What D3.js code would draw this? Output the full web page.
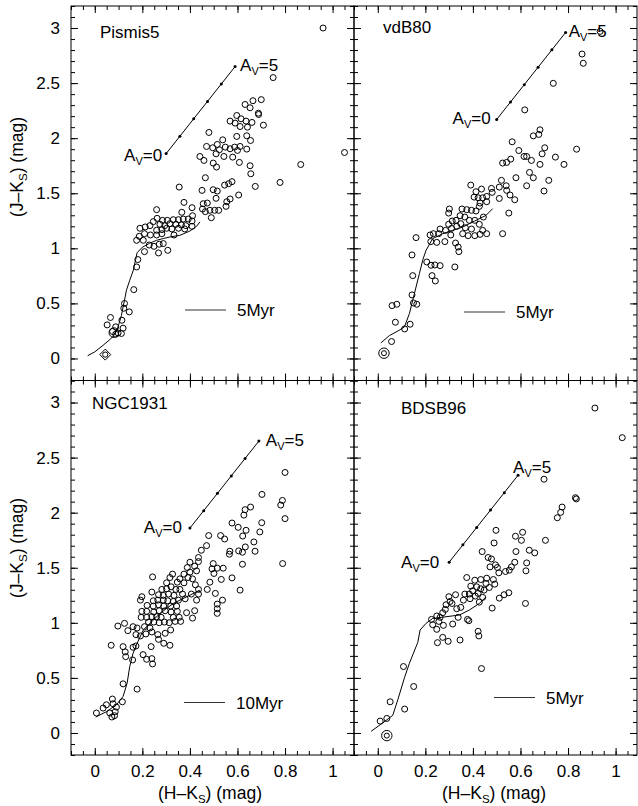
<!DOCTYPE html>
<html>
<head>
<meta charset="utf-8">
<script src="https://cdn.jsdelivr.net/npm/d3@7"></script>
<style>
  body { margin: 0; background: #fff; }
  svg { display: block; }
  text { font-family: "Liberation Sans", Arial, Helvetica, sans-serif; fill: #000; }
</style>
</head>
<body>
<svg id="chart" width="638" height="806"></svg>
<script>
// ---- data ----
const clusterNames = ["Pismis5", "vdB80", "NGC1931", "BDSB96"];
const isoAges = ["5Myr", "5Myr", "10Myr", "5Myr"];

const xTickValues = [0, 0.2, 0.4, 0.6, 0.8, 1];
const yTickValues = [0, 0.5, 1, 1.5, 2, 2.5, 3];

// reddening vector: start at A_V=0, one dot per magnitude
const avStarts = [[0.3, 1.86], [0.5, 2.17], [0.4, 1.86], [0.3, 1.55]];
const avStep = [0.058, 0.158];
const avValues = [0, 1, 2, 3, 4, 5];

const pismis5Stars = [
  [0.96,3.0],[0.75,2.55],[1.05,1.87],[0.866,1.761],[0.779,1.598],
  [0.70,2.35],[0.665,2.34],[0.632,2.306],[0.653,2.276],[0.688,2.227],[0.689,2.215],[0.709,2.118],
  [0.597,2.206],[0.569,2.155],[0.59,2.137],[0.615,2.176],[0.636,2.155],[0.661,2.143],[0.611,2.106],
  [0.642,2.1],[0.48,2.052],[0.538,1.985],[0.597,2.016],[0.639,2.022],[0.655,1.979],
  [0.47,1.925],[0.496,1.913],[0.515,1.943],[0.524,1.895],[0.549,1.919],[0.569,1.904],[0.588,1.919],
  [0.6,1.889],[0.611,1.925],[0.639,1.901],[0.51,1.858],[0.543,1.834],[0.58,1.828],[0.442,1.834],
  [0.459,1.798],[0.608,1.78],[0.498,1.774],[0.512,1.738],[0.653,1.75],[0.656,1.677],[0.465,1.641],
  [0.355,1.556],[0.675,1.562],[0.546,1.574],[0.563,1.587],[0.577,1.605],[0.451,1.526],[0.498,1.532],
  [0.515,1.52],[0.51,1.454],[0.605,1.484],[0.569,1.448],[0.555,1.423],[0.552,1.381],[0.375,1.417],
  [0.456,1.405],[0.473,1.411],[0.409,1.369],[0.453,1.357],[0.465,1.333],[0.484,1.345],[0.504,1.345],
  [0.521,1.345],[0.49,1.278],
  [0.26,1.351],[0.366,1.327],[0.411,1.296],[0.393,1.266],[0.372,1.266],[0.352,1.26],[0.33,1.26],
  [0.305,1.254],[0.285,1.254],[0.262,1.272],[0.246,1.242],[0.232,1.206],[0.212,1.194],[0.19,1.182],
  [0.274,1.218],[0.294,1.206],[0.316,1.224],[0.341,1.218],[0.364,1.212],[0.383,1.206],[0.409,1.2],
  [0.409,1.248],[0.26,1.164],[0.282,1.17],[0.302,1.182],[0.324,1.176],[0.352,1.182],[0.378,1.176],
  [0.282,1.133],[0.26,1.121],[0.234,1.121],[0.209,1.133],[0.187,1.109],[0.176,1.073],[0.204,1.073],
  [0.229,1.03],[0.249,1.018],[0.271,1.037],[0.288,1.043],[0.333,1.121],[0.209,0.97],[0.268,0.958],
  [0.307,0.982],[0.181,0.898],[0.176,0.831],
  [0.164,0.625],[0.125,0.499],[0.122,0.456],[0.145,0.423],[0.066,0.372],[0.052,0.305],[0.114,0.347],
  [0.088,0.287],[0.119,0.275],[0.098,0.232],[0.112,0.227],[0.075,0.245],[0.088,0.22]
];

const vdb80Stars = [
  [0.935,2.97],[0.859,2.764],[0.864,2.68],[0.738,2.498],[0.618,2.257],[0.836,1.9],
  [0.682,2.076],[0.677,2.034],[0.654,2.021],[0.565,1.967],[0.702,1.913],[0.593,1.888],[0.691,1.858],
  [0.615,1.834],[0.626,1.834],[0.747,1.828],[0.783,1.762],[0.646,1.798],[0.682,1.762],[0.525,1.774],
  [0.542,1.78],[0.559,1.81],[0.581,1.641],[0.638,1.689],[0.654,1.641],[0.626,1.568],[0.719,1.617],
  [0.699,1.52],[0.52,1.617],[0.54,1.568],[0.542,1.526],[0.556,1.484],[0.576,1.441],[0.511,1.556],
  [0.551,1.32],[0.525,1.133],
  [0.391,1.574],[0.413,1.514],[0.436,1.538],[0.478,1.544],[0.481,1.508],[0.422,1.459],[0.441,1.459],
  [0.458,1.471],[0.511,1.453],[0.458,1.423],[0.43,1.411],[0.405,1.465],[0.427,1.381],[0.413,1.339],
  [0.394,1.345],[0.374,1.351],[0.354,1.357],[0.301,1.357],[0.298,1.32],[0.346,1.296],[0.366,1.284],
  [0.385,1.254],[0.408,1.254],[0.444,1.284],[0.427,1.218],[0.441,1.163],[0.458,1.133],[0.43,1.127],
  [0.408,1.115],[0.38,1.115],[0.394,1.175],[0.368,1.187],[0.349,1.224],[0.329,1.254],[0.313,1.248],
  [0.332,1.2],[0.31,1.181],[0.298,1.218],[0.285,1.163],[0.262,1.175],[0.256,1.133],[0.234,1.133],
  [0.22,1.121],[0.307,1.121],[0.357,1.133],[0.223,1.061],[0.248,1.054],[0.282,1.061],[0.327,1.048],
  [0.338,1.012],[0.341,0.97],[0.161,1.097],[0.144,0.94],
  [0.206,0.876],[0.224,0.846],[0.24,0.849],[0.262,0.843],[0.324,0.831],[0.147,0.752],[0.228,0.752],
  [0.242,0.704],[0.144,0.577],[0.15,0.504],[0.164,0.492],[0.06,0.48],[0.08,0.492],[0.074,0.329],
  [0.136,0.311],[0.113,0.268],[0.058,0.154]
];

const ngc1931Stars = [
  [0.80,2.365],[0.703,2.166],[0.789,2.111],[0.782,2.069],[0.8,1.946],[0.79,1.538],[0.655,2.051],
  [0.632,2.027],[0.627,1.978],[0.702,1.909],[0.577,1.906],[0.603,1.867],[0.636,1.84],[0.694,1.825],
  [0.622,1.788],[0.669,1.734],[0.633,1.689],[0.605,1.653],[0.621,1.641],[0.674,1.65],[0.568,1.65],
  [0.621,1.532],[0.577,1.408],[0.611,1.297],
  [0.546,1.761],[0.529,1.792],[0.479,1.792],[0.47,1.701],[0.448,1.659],[0.436,1.593],[0.566,1.623],
  [0.498,1.538],[0.515,1.496],[0.493,1.49],[0.54,1.496],[0.501,1.448],[0.532,1.394],[0.484,1.369],
  [0.507,1.267],[0.537,1.206],[0.515,1.17],[0.515,1.128],[0.515,1.086],[0.473,1.303],[0.436,1.556],
  [0.4,1.55],[0.42,1.514],[0.389,1.502],[0.428,1.472],[0.4,1.46],[0.375,1.442],[0.392,1.411],
  [0.358,1.399],[0.411,1.399],[0.327,1.442],[0.316,1.411],[0.347,1.369],[0.375,1.363],[0.423,1.345],
  [0.436,1.303],[0.436,1.261],[0.406,1.261],[0.38,1.218],[0.428,1.206],[0.243,1.417],[0.302,1.363],
  [0.321,1.327],[0.302,1.309],[0.282,1.303],[0.341,1.303],[0.358,1.303],[0.369,1.261],[0.333,1.249],
  [0.31,1.261],[0.288,1.249],[0.268,1.255],[0.24,1.279],[0.198,1.237],[0.192,1.206],[0.352,1.206],
  [0.33,1.194],[0.307,1.2],[0.288,1.206],[0.265,1.206],[0.246,1.2],[0.22,1.158],[0.246,1.152],
  [0.268,1.164],[0.29,1.152],[0.319,1.152],[0.344,1.152],[0.198,1.104],[0.218,1.104],[0.248,1.098],
  [0.271,1.11],[0.296,1.11],[0.321,1.098],[0.347,1.104],[0.195,1.05],[0.218,1.05],[0.24,1.056],
  [0.26,1.056],[0.279,1.05],[0.33,1.05],[0.355,1.05],[0.226,1.007],[0.248,1.007],[0.271,1.001],
  [0.293,1.007],[0.313,1.001],[0.338,1.013],[0.361,1.013],[0.386,1.092],[0.42,1.11],[0.411,1.043],
  [0.097,0.971],[0.125,0.995],[0.161,0.965],[0.139,0.929],[0.178,0.953],[0.209,0.965],[0.232,0.953],
  [0.173,0.893],[0.192,0.881],[0.215,0.899],[0.24,0.917],[0.265,0.893],[0.296,0.905],[0.319,0.935],
  [0.268,0.85],[0.29,0.814],[0.316,0.796],[0.237,0.784],[0.069,0.796],[0.119,0.784],[0.161,0.778],
  [0.173,0.79],[0.128,0.736],[0.13,0.693],[0.159,0.663],[0.203,0.711],[0.218,0.669],[0.24,0.675],
  [0.243,0.627],[0.119,0.446],[0.178,0.398],
  [0.007,0.181],[0.035,0.226],[0.049,0.256],[0.074,0.308],[0.072,0.145],[0.063,0.181],[0.086,0.193],
  [0.091,0.235],[0.077,0.265],[0.083,0.157],[0.116,0.283]
];

const bdsb96Stars = [
  [0.913,2.95],[1.028,2.681],[0.699,2.304],[0.831,2.136],[0.835,2.125],[0.775,2.051],[0.769,2.003],
  [0.755,1.954],[0.497,1.84],[0.579,1.786],[0.609,1.822],[0.604,1.749],[0.705,1.749],[0.489,1.725],
  [0.439,1.647],[0.581,1.647],[0.637,1.659],[0.66,1.635],[0.464,1.593],[0.478,1.58],[0.576,1.55],
  [0.626,1.544],[0.623,1.472],[0.562,1.508],[0.553,1.478],[0.537,1.466],[0.495,1.526],[0.503,1.502],
  [0.472,1.508],[0.509,1.454],[0.374,1.411],[0.433,1.393],[0.458,1.405],[0.486,1.393],[0.408,1.387],
  [0.455,1.357],[0.492,1.351],[0.469,1.321],[0.433,1.309],[0.416,1.327],[0.391,1.333],[0.399,1.291],
  [0.422,1.267],[0.447,1.297],[0.385,1.261],[0.366,1.261],[0.41,1.243],[0.441,1.231],[0.427,1.188],
  [0.388,1.219],[0.36,1.206],[0.299,1.237],[0.327,1.255],[0.304,1.194],[0.312,1.176],[0.349,1.14],
  [0.332,1.128],[0.287,1.164],[0.284,1.122],[0.273,1.092],[0.248,1.062],[0.226,1.031],[0.262,1.05],
  [0.257,1.013],[0.231,0.983],[0.248,0.941],[0.276,0.977],[0.315,0.989],[0.338,1.05],[0.377,1.031],
  [0.383,1.019],[0.481,1.134],[0.511,1.224],[0.531,1.255],[0.551,1.273],[0.621,1.176],[0.422,0.923],
  [0.425,0.881],[0.273,0.868],[0.251,0.82],[0.296,0.832],[0.346,0.844],[0.436,0.585],[0.108,0.603],
  [0.151,0.422],[0.052,0.283],[0.113,0.217],[0.01,0.108],[0.038,0.132]
];

// model isochrones
const pismis5Iso = [[-0.03,0.025],[0.0,0.06],[0.035,0.12],[0.06,0.165],[0.077,0.2],[0.092,0.25],
  [0.102,0.317],[0.112,0.39],[0.119,0.468],[0.127,0.55],[0.133,0.619],[0.147,0.71],[0.162,0.8],
  [0.172,0.9],[0.178,0.96],[0.2,1.01],[0.23,1.045],[0.26,1.073],[0.29,1.09],[0.316,1.103],
  [0.358,1.118],[0.4,1.157],[0.428,1.2],[0.442,1.24]];
const vdb80Iso = [[0.013,0.141],[0.049,0.208],[0.085,0.25],[0.112,0.286],[0.133,0.408],[0.154,0.589],
  [0.175,0.771],[0.19,0.9],[0.203,0.982],[0.231,1.088],[0.273,1.133],[0.315,1.163],[0.357,1.193],
  [0.413,1.254],[0.455,1.299],[0.483,1.36]];
const ngc1931Iso = [[0.004,0.145],[0.049,0.193],[0.091,0.256],[0.119,0.332],[0.136,0.452],[0.147,0.603],
  [0.161,0.724],[0.178,0.814],[0.204,0.935],[0.232,0.995],[0.274,1.085],[0.33,1.176],[0.386,1.236],
  [0.442,1.296]];
const bdsb96Iso = [[-0.028,0.015],[0.02,0.09],[0.063,0.16],[0.084,0.3],[0.112,0.5],[0.133,0.633],
  [0.161,0.784],[0.168,0.82],[0.178,0.935],[0.203,0.995],[0.231,1.04],[0.287,1.055],[0.343,1.071],
  [0.385,1.116],[0.427,1.176],[0.455,1.235]];

// special symbols (diamond / ring / big circle)
const pismis5Marks = [["diamond", 0.044, 0.035], ["big", 0.08, 0.235]];
const vdb80Marks = [["ring", 0.026, 0.048]];
const ngc1931Marks = [];
const bdsb96Marks = [["ring", 0.038, -0.024]];

const starSets = [pismis5Stars, vdb80Stars, ngc1931Stars, bdsb96Stars];
const isoSets = [pismis5Iso, vdb80Iso, ngc1931Iso, bdsb96Iso];
const markSets = [pismis5Marks, vdb80Marks, ngc1931Marks, bdsb96Marks];

// ---- layout ----
const svg = d3.select("#chart");
const font = 17;
const colLeft = [71, 354], panelW = 283;
const rowTop = [6, 380.5], panelH = 374.5;
const xDomain = [-0.1, 1.09], yDomain = [-0.2, 3.2];

// per-panel text placement (pixels relative to panel / vector ends)
const layout = [
  { col: 0, row: 0, name: [29, 32], av0: [-4, 7], av5: [5, 4, "start"], leg: [114, 304] },
  { col: 1, row: 0, name: [29, 27], av0: [-6, 5], av5: [3, 5, "start"], leg: [110, 306] },
  { col: 0, row: 1, name: [21, 28], av0: [-8, 5], av5: [7, 5, "start"], leg: [113, 322] },
  { col: 1, row: 1, name: [47, 33], av0: [-10, 6], av5: [-5, -2, "start"], leg: [140, 317] }
];

const xMinor = d3.range(-2, 22).map(i => i * 0.05);
const yMinor = d3.range(-2, 33).map(i => i * 0.1);

layout.forEach((p, i) => {
  const left = colLeft[p.col], top = rowTop[p.row];
  const x = d3.scaleLinear().domain(xDomain).range([left, left + panelW]);
  const y = d3.scaleLinear().domain(yDomain).range([top + panelH, top]);
  const g = svg.append("g");

  // frame
  g.append("rect")
    .attr("x", left).attr("y", top).attr("width", panelW).attr("height", panelH)
    .attr("fill", "none").attr("stroke", "#000").attr("stroke-width", 1);

  // ticks on all four sides, pointing inward
  const axes = [
    [d3.axisBottom(x), top + panelH, "x", p.row === 1],
    [d3.axisTop(x), top, "x", false],
    [d3.axisLeft(y), left, "y", p.col === 0],
    [d3.axisRight(y), left + panelW, "y", false]
  ];
  axes.forEach(([ax, pos, dim, labels]) => {
    const tr = dim === "x" ? `translate(0,${pos})` : `translate(${pos},0)`;
    g.append("g").attr("transform", tr)
      .call(ax.tickValues(dim === "x" ? xMinor : yMinor).tickSize(-4).tickFormat(""))
      .call(s => s.select(".domain").remove());
    g.append("g").attr("transform", tr)
      .call(ax.tickValues(dim === "x" ? xTickValues : yTickValues).tickSize(-7)
        .tickPadding(dim === "x" ? 10 : 11)
        .tickFormat(labels ? d3.format("") : ""))
      .call(s => s.select(".domain").remove())
      .call(s => s.selectAll("text").attr("font-size", font)
        .attr("font-family", '"Liberation Sans", Arial, sans-serif'));
  });
  g.selectAll(".tick line").attr("stroke", "#000");

  // clip marks to the frame
  const clipId = "clip" + i;
  svg.append("clipPath").attr("id", clipId).append("rect")
    .attr("x", left).attr("y", top).attr("width", panelW).attr("height", panelH);
  const inner = g.append("g").attr("clip-path", `url(#${clipId})`);

  // isochrone
  inner.append("path")
    .datum(isoSets[i])
    .attr("d", d3.line().x(d => x(d[0])).y(d => y(d[1])))
    .attr("fill", "none").attr("stroke", "#000").attr("stroke-width", 1);

  // stars
  inner.selectAll("circle.star")
    .data(starSets[i])
    .join("circle").attr("class", "star")
    .attr("cx", d => x(d[0])).attr("cy", d => y(d[1]))
    .attr("r", 3)
    .attr("fill", "none").attr("stroke", "#000").attr("stroke-width", 1);

  // special symbols
  markSets[i].forEach(([type, mx, my]) => {
    const cx = x(mx), cy = y(my);
    if (type === "diamond") {
      inner.append("path")
        .attr("d", `M${cx},${cy - 5.5}L${cx + 5.5},${cy}L${cx},${cy + 5.5}L${cx - 5.5},${cy}Z`)
        .attr("fill", "none").attr("stroke", "#000").attr("stroke-width", 1);
      inner.append("circle").attr("cx", cx).attr("cy", cy).attr("r", 2.6)
        .attr("fill", "none").attr("stroke", "#000").attr("stroke-width", 1);
    } else if (type === "ring") {
      inner.append("circle").attr("cx", cx).attr("cy", cy).attr("r", 5.2)
        .attr("fill", "none").attr("stroke", "#000").attr("stroke-width", 1);
      inner.append("circle").attr("cx", cx).attr("cy", cy).attr("r", 2.5)
        .attr("fill", "none").attr("stroke", "#000").attr("stroke-width", 1);
    } else {
      inner.append("circle").attr("cx", cx).attr("cy", cy).attr("r", 4.8)
        .attr("fill", "none").attr("stroke", "#000").attr("stroke-width", 1);
    }
  });

  // reddening vector
  const av = avValues.map(a => [avStarts[i][0] + a * avStep[0], avStarts[i][1] + a * avStep[1]]);
  g.append("path")
    .datum(av)
    .attr("d", d3.line().x(d => x(d[0])).y(d => y(d[1])))
    .attr("fill", "none").attr("stroke", "#000").attr("stroke-width", 1);
  g.selectAll("circle.av")
    .data(av)
    .join("circle").attr("class", "av")
    .attr("cx", d => x(d[0])).attr("cy", d => y(d[1]))
    .attr("r", 1.5).attr("fill", "#000");

  const avLabel = (pt, off, anchor, val) => {
    const t = g.append("text")
      .attr("x", x(pt[0]) + off[0]).attr("y", y(pt[1]) + off[1])
      .attr("text-anchor", anchor).attr("font-size", font);
    t.append("tspan").text("A");
    t.append("tspan").attr("font-size", 11).attr("dy", 4).text("V");
    t.append("tspan").attr("dy", -4).text("=" + val);
  };
  avLabel(av[0], p.av0, "end", avValues[0]);
  avLabel(av[av.length - 1], p.av5, p.av5[2], avValues[avValues.length - 1]);

  // cluster name
  g.append("text")
    .attr("x", left + p.name[0]).attr("y", top + p.name[1])
    .attr("font-size", font).text(clusterNames[i]);

  // legend
  g.append("line")
    .attr("x1", left + p.leg[0]).attr("x2", left + p.leg[0] + 41)
    .attr("y1", top + p.leg[1]).attr("y2", top + p.leg[1])
    .attr("stroke", "#333").attr("stroke-width", 1);
  g.append("text")
    .attr("x", left + p.leg[0] + 52).attr("y", top + p.leg[1] + 6)
    .attr("font-size", font).text(isoAges[i]);
});

// axis titles
function subTitle(sel, a, b) {
  sel.append("tspan").text(a);
  sel.append("tspan").attr("font-size", 11.5).attr("dy", 4).text("S");
  sel.append("tspan").attr("dy", -4).text(b);
}
[167, 548].forEach(cy => {
  const t = svg.append("text")
    .attr("transform", `translate(23,${cy}) rotate(-90)`)
    .attr("text-anchor", "middle").attr("font-size", 17.5);
  subTitle(t, "(J\u2013K", ") (mag)");
});
[210, 494].forEach(cx => {
  const t = svg.append("text")
    .attr("x", cx).attr("y", 799)
    .attr("text-anchor", "middle").attr("font-size", 17.5);
  subTitle(t, "(H\u2013K", ") (mag)");
});
</script>
</body>
</html>
